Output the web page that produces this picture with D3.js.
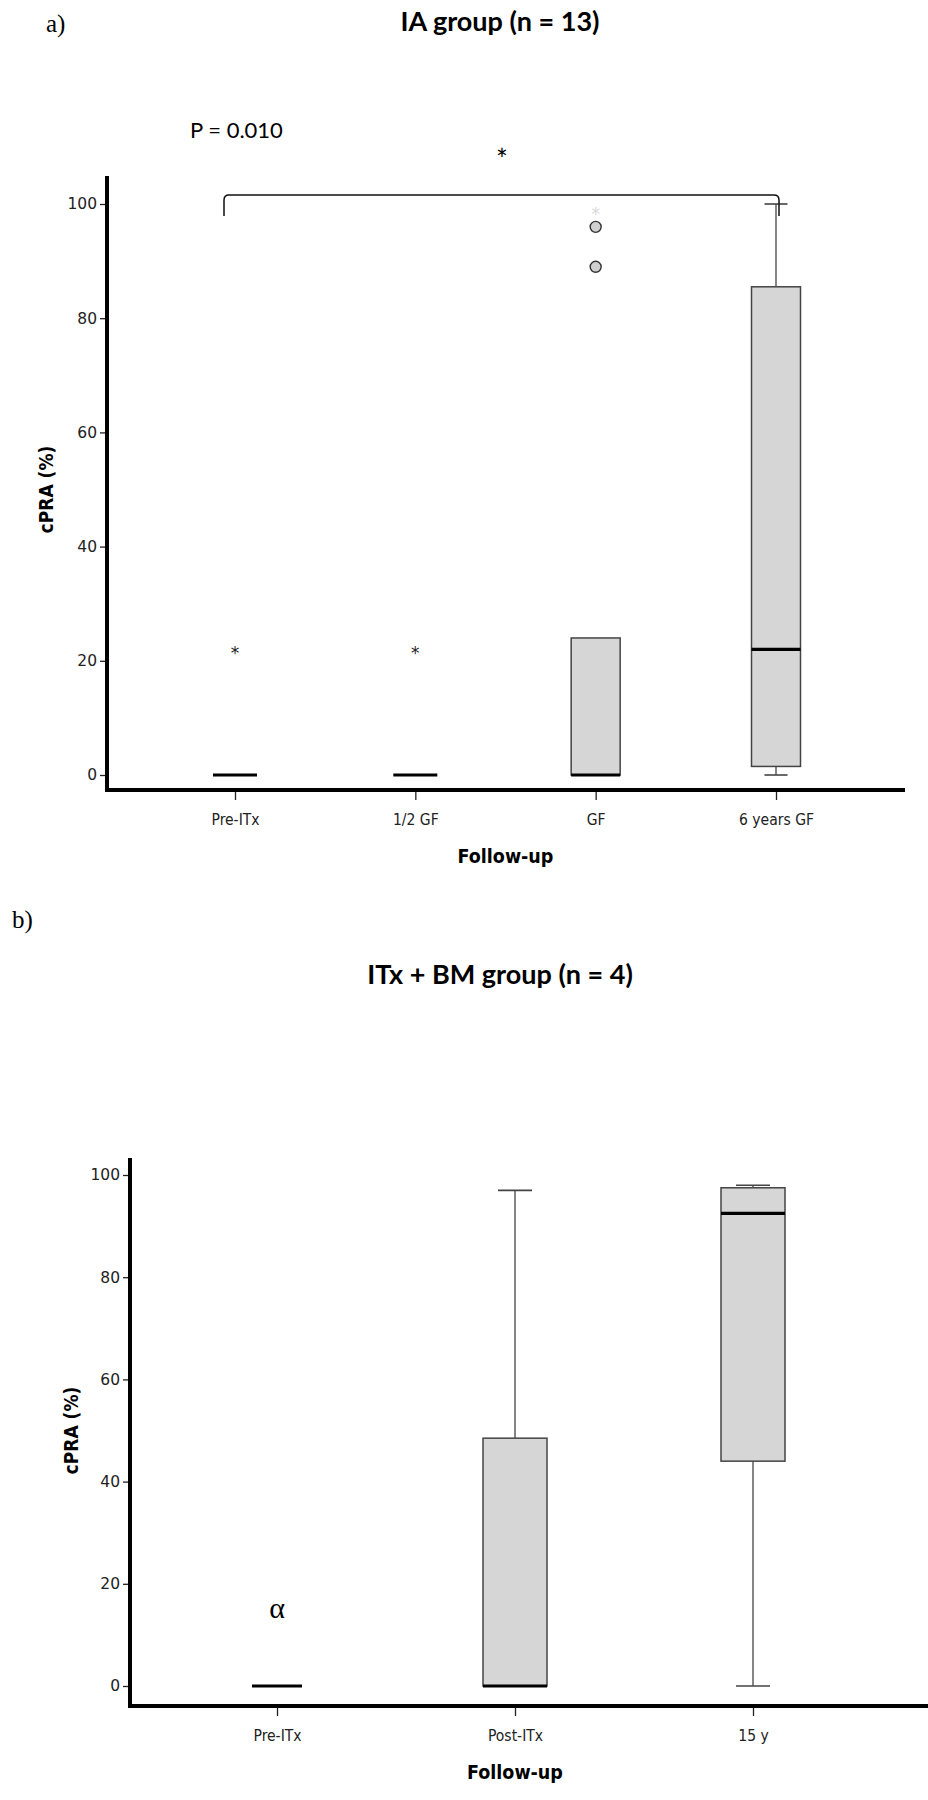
<!DOCTYPE html>
<html>
<head>
<meta charset="utf-8">
<script src="https://cdn.jsdelivr.net/npm/d3@7"></script>
<style>
  body { margin: 0; background: #fff; }
  svg { display: block; }
</style>
</head>
<body>
<svg id="chart" width="928" height="1800"></svg>
<script>
// panel a: IA group
const catsA = ["Pre-ITx", "1/2 GF", "GF", "6 years GF"];
const minA = [0, 0, 0, 0];
const q1A = [0, 0, 0, 1.5];
const medA = [0, 0, 0, 22];
const q3A = [0, 0, 24, 85.5];
const maxA = [0, 0, 24, 100];
const circlesA = [{ cat: "GF", v: 96 }, { cat: "GF", v: 89 }];
const starsA = [{ cat: "Pre-ITx", v: 22, faint: false }, { cat: "1/2 GF", v: 22, faint: false }, { cat: "GF", v: 99, faint: true }];

// panel b: ITx + BM group
const catsB = ["Pre-ITx", "Post-ITx", "15 y"];
const minB = [0, 0, 0];
const q1B = [0, 0, 44];
const medB = [0, 0, 92.5];
const q3B = [0, 48.5, 97.5];
const maxB = [0, 97, 98];

const yTicks = [0, 20, 40, 60, 80, 100];

const svg = d3.select("#chart");
const tickFont = "'DejaVu Sans', sans-serif";
const condFont = "'DejaVu Sans Condensed', 'DejaVu Sans', sans-serif";
const titleFont = "Lato, 'Open Sans', sans-serif";
const serifFont = "'Liberation Serif', serif";

function drawPanel(opt) {
    const g = svg.append("g");
    const x = d3.scalePoint().domain(opt.cats).range(opt.xRange);
    const y = d3.scaleLinear().domain([0, 100]).range(opt.yRange);

    // axes
    const yAxis = d3.axisLeft(y).tickValues(yTicks).tickSize(7).tickPadding(3);
    const yg = g.append("g").attr("transform", `translate(${opt.axisX},0)`).call(yAxis);
    yg.select(".domain").remove();
    yg.selectAll("text").attr("font-family", tickFont).attr("font-size", 15.5).attr("fill", "#222");
    yg.selectAll("line").attr("stroke", "#222").attr("stroke-width", 1.3);

    const xAxis = d3.axisBottom(x).tickSize(10).tickPadding(14);
    const xg = g.append("g").attr("transform", `translate(0,${opt.axisY})`).call(xAxis);
    xg.select(".domain").remove();
    xg.selectAll("text").attr("font-family", condFont).attr("font-size", 15.5).attr("fill", "#222");
    xg.selectAll("line").attr("stroke", "#222").attr("stroke-width", 1.3);

    g.append("line").attr("x1", opt.axisX).attr("x2", opt.axisX)
        .attr("y1", opt.axisTop).attr("y2", opt.axisY + 2)
        .attr("stroke", "#000").attr("stroke-width", 4);
    g.append("line").attr("x1", opt.axisX - 2).attr("x2", opt.axisRight)
        .attr("y1", opt.axisY).attr("y2", opt.axisY)
        .attr("stroke", "#000").attr("stroke-width", 4);

    // axis titles
    g.append("text")
        .attr("transform", `translate(${opt.yLabelX},${(y(0) + y(100)) / 2}) rotate(-90)`)
        .attr("text-anchor", "middle")
        .attr("font-family", condFont).attr("font-weight", "bold").attr("font-size", 19)
        .text("cPRA (%)");
    g.append("text")
        .attr("x", (opt.xRange[0] + opt.xRange[1]) / 2).attr("y", opt.axisY + 73)
        .attr("text-anchor", "middle")
        .attr("font-family", condFont).attr("font-weight", "bold").attr("font-size", 19.5)
        .text("Follow-up");

    // boxes
    const bw = opt.boxW;
    opt.cats.forEach((c, i) => {
        const cx = x(c);
        const box = g.append("g");
        if (opt.max[i] > opt.q3[i]) {
            box.append("line").attr("x1", cx).attr("x2", cx)
                .attr("y1", y(opt.q3[i])).attr("y2", y(opt.max[i])).attr("stroke", "#444").attr("stroke-width", 1.3);
            box.append("line").attr("x1", cx - opt.capW / 2).attr("x2", cx + opt.capW / 2)
                .attr("y1", y(opt.max[i])).attr("y2", y(opt.max[i])).attr("stroke", "#444").attr("stroke-width", 1.6);
        }
        if (opt.min[i] < opt.q1[i]) {
            box.append("line").attr("x1", cx).attr("x2", cx)
                .attr("y1", y(opt.q1[i])).attr("y2", y(opt.min[i])).attr("stroke", "#444").attr("stroke-width", 1.3);
            box.append("line").attr("x1", cx - opt.capW / 2).attr("x2", cx + opt.capW / 2)
                .attr("y1", y(opt.min[i])).attr("y2", y(opt.min[i])).attr("stroke", "#444").attr("stroke-width", 1.6);
        }
        if (opt.q3[i] > opt.q1[i]) {
            box.append("rect")
                .attr("x", cx - bw / 2).attr("width", bw)
                .attr("y", y(opt.q3[i])).attr("height", y(opt.q1[i]) - y(opt.q3[i]))
                .attr("fill", "#d6d6d6").attr("stroke", "#444").attr("stroke-width", 1.5);
        }
        const mw = opt.q3[i] > opt.q1[i] ? bw : opt.medW;
        box.append("line").attr("x1", cx - mw / 2).attr("x2", cx + mw / 2)
            .attr("y1", y(opt.med[i])).attr("y2", y(opt.med[i]))
            .attr("stroke", "#000").attr("stroke-width", 3.2);
    });

    return { g, x, y };
}

// ---- panel a
const pa = drawPanel({
    cats: catsA, min: minA, q1: q1A, med: medA, q3: q3A, max: maxA,
    xRange: [235, 776], yRange: [775, 204],
    axisX: 107, axisY: 790, axisTop: 176, axisRight: 905,
    yLabelX: 53, boxW: 49, medW: 44, capW: 23
});

pa.g.selectAll(".outlier")
    .data(circlesA)
    .enter()
    .append("circle")
    .attr("cx", (d) => pa.x(d.cat))
    .attr("cy", (d) => pa.y(d.v))
    .attr("r", 5.5)
    .attr("fill", "#d0d0d0")
    .attr("stroke", "#333")
    .attr("stroke-width", 1.4);

pa.g.selectAll(".extreme")
    .data(starsA)
    .enter()
    .append("text")
    .attr("x", (d) => pa.x(d.cat))
    .attr("y", (d) => pa.y(d.v) + 10)
    .attr("text-anchor", "middle")
    .attr("font-family", tickFont)
    .attr("font-size", 17)
    .attr("fill", (d) => (d.faint ? "#d8d8d8" : "#222"))
    .text("*");

// significance bracket
const bx0 = pa.x("Pre-ITx") - 11, bx1 = pa.x("6 years GF") + 3;
pa.g.append("path")
    .attr("d", `M${bx0},216 L${bx0},200 Q${bx0},195 ${bx0 + 5},195 L${bx1 - 5},195 Q${bx1},195 ${bx1},200 L${bx1},216`)
    .attr("fill", "none").attr("stroke", "#111").attr("stroke-width", 1.5);
svg.append("text").attr("x", 502).attr("y", 170).attr("text-anchor", "middle")
    .attr("font-family", titleFont).attr("font-size", 28).text("*");
svg.append("text").attr("x", 190).attr("y", 138)
    .attr("font-family", titleFont).attr("font-size", 22).text("P = 0.010");

svg.append("text").attr("x", 46).attr("y", 32)
    .attr("font-family", serifFont).attr("font-size", 25).text("a)");
svg.append("text").attr("x", 500).attr("y", 31).attr("text-anchor", "middle")
    .attr("font-family", titleFont).attr("font-weight", "bold").attr("font-size", 27)
    .text("IA group (n = 13)");

// ---- panel b
const pb = drawPanel({
    cats: catsB, min: minB, q1: q1B, med: medB, q3: q3B, max: maxB,
    xRange: [277, 753], yRange: [1686, 1175],
    axisX: 130, axisY: 1706, axisTop: 1158, axisRight: 928,
    yLabelX: 78, boxW: 64, medW: 50, capW: 34
});

svg.append("text").attr("x", pb.x("Pre-ITx")).attr("y", pb.y(15) + 9).attr("text-anchor", "middle")
    .attr("font-family", serifFont).attr("font-size", 30).text("α");

svg.append("text").attr("x", 12).attr("y", 928)
    .attr("font-family", serifFont).attr("font-size", 25).text("b)");
svg.append("text").attr("x", 500).attr("y", 984).attr("text-anchor", "middle")
    .attr("font-family", titleFont).attr("font-weight", "bold").attr("font-size", 27)
    .text("ITx + BM group (n = 4)");
</script>
</body>
</html>
